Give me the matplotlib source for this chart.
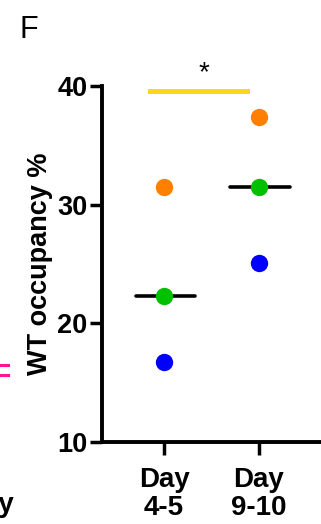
import matplotlib
matplotlib.use("Agg")
import matplotlib.pyplot as plt
from matplotlib.lines import Line2D

plt.rcParams['font.family'] = ['Liberation Sans', 'DejaVu Sans']

categories = ["Day\n4-5", "Day\n9-10"]
orange_vals = [31.5, 37.4]
green_vals = [22.3, 31.5]
blue_vals = [16.7, 25.1]
medians = [22.3, 31.5]
yticks = [10, 20, 30, 40]
sig_label = "*"

fig = plt.figure(figsize=(3.21, 5.24), dpi=100)
ax = fig.add_axes([102/321, 82/524, 219/321, 356/524])

xs = list(range(len(categories)))
for vals, col in [(orange_vals, '#FF8000'), (green_vals, '#00C000'), (blue_vals, '#0000FF')]:
    ax.plot(xs, vals, 'o', color=col, markersize=12.5, markeredgewidth=0, zorder=3, clip_on=False)

for x, m in zip(xs, medians):
    ax.plot([x - 0.3, x + 0.33], [m, m], color='black', lw=2.6, solid_capstyle='round', zorder=2)

ax.plot([xs[0] - 0.15, xs[1] - 0.13], [39.6, 39.6], color='#FFD520', lw=3.6, clip_on=False, zorder=2)
ax.text(0.42, 40.0, sig_label, ha='center', va='bottom', fontsize=20)

ax.set_xlim(-0.653, 1.653)
ax.set_ylim(10, 40)
ax.set_yticks(yticks)
ax.set_xticks(xs)
ax.set_xticklabels(categories, fontsize=20, fontweight='bold', linespacing=1.1)
ax.tick_params(axis='y', labelsize=19.5, width=2.5, length=9, direction='out', pad=1.5)
ax.tick_params(axis='x', width=2.5, length=9, direction='out', pad=9)
for lab in ax.get_yticklabels():
    lab.set_fontweight('bold')
for s in ['top', 'right']:
    ax.spines[s].set_visible(False)
for s in ['left', 'bottom']:
    ax.spines[s].set_linewidth(2.8)

ax.set_ylabel("WT occupancy %", fontsize=19.5, fontweight='bold', labelpad=3)

fig.text(20/321, 1 - 38/524, "F", fontsize=22, ha='left', va='baseline')
fig.add_artist(Line2D([0, 8/321], [1 - 365/524, 1 - 365/524], color='#FF1493', lw=2.2))
fig.add_artist(Line2D([0, 8/321], [1 - 375/524, 1 - 375/524], color='#FF1493', lw=2.2))
fig.text(14/321, 1 - 512/524, "Day", fontsize=20, fontweight='bold', ha='right', va='baseline')

fig.savefig("out.png", dpi=100)
